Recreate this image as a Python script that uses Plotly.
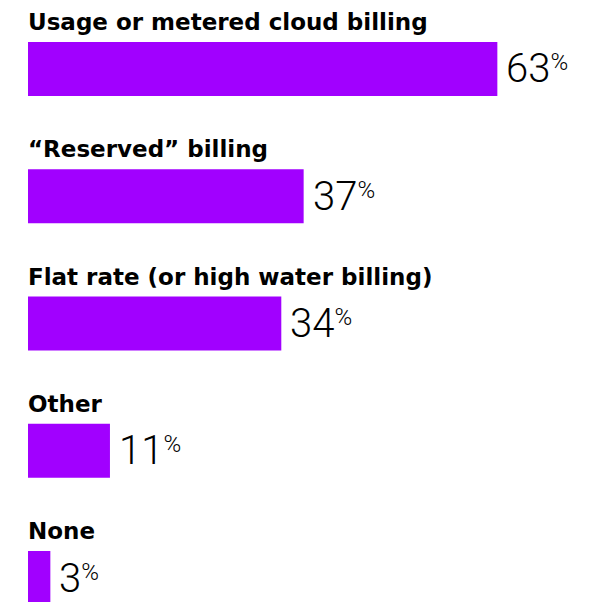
import plotly.graph_objects as go

categories = [
    "Usage or metered cloud billing",
    "\u201cReserved\u201d billing",
    "Flat rate (or high water billing)",
    "Other",
    "None",
]
values = [63, 37, 34, 11, 3]

PURPLE = "#A100FF"

fig = go.Figure()
fig.add_trace(go.Bar(
    x=values,
    y=categories,
    orientation="h",
    marker=dict(color=PURPLE, line=dict(width=0)),
    hoverinfo="skip",
))

annotations = []
for c, v in zip(categories, values):
    annotations.append(dict(
        x=0, y=c, xref="x", yref="y",
        text=c, showarrow=False,
        xanchor="left", yanchor="bottom",
        xshift=-2, yshift=32,
        font=dict(family="DejaVu Sans", size=23, color="#000000", weight=700),
    ))
    annotations.append(dict(
        x=v, y=c, xref="x", yref="y",
        text=(f"{v}<span style='font-size:28px'><sup>"
              f"<span style='font-size:24px'>%</span></sup></span>"),
        showarrow=False,
        xanchor="left", yanchor="middle",
        xshift=7, yshift=0,
        font=dict(family="Roboto", size=40, color="#000000", weight=300),
    ))

fig.update_layout(
    width=616, height=602,
    margin=dict(l=20, r=0, t=0, b=0),
    paper_bgcolor="white", plot_bgcolor="white",
    showlegend=False,
    bargap=0.5756,
    xaxis=dict(range=[0, 80.0], visible=False, fixedrange=True),
    yaxis=dict(type="category", range=[4.251, -0.479], visible=False, fixedrange=True),
    annotations=annotations,
)

fig.write_html("out.html")
